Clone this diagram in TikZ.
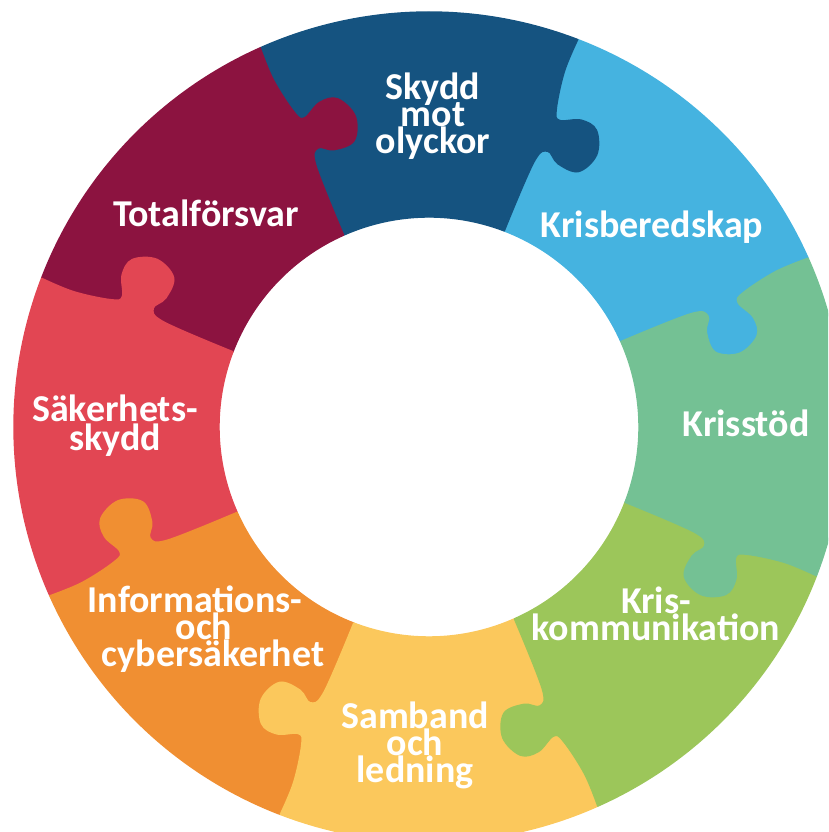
\documentclass[tikz,border=0pt]{standalone}
\usepackage{fontspec}
\setmainfont{Carlito}

\definecolor{krisblue}{HTML}{45B3E0}
\definecolor{skyddblue}{HTML}{155380}
\definecolor{totalred}{HTML}{8C1340}
\definecolor{sakred}{HTML}{E24653}
\definecolor{infoorange}{HTML}{F08F32}
\definecolor{sambyellow}{HTML}{FBC85C}
\definecolor{kommgreen}{HTML}{9CC65A}
\definecolor{stodgreen}{HTML}{74C194}

% one seam between two pieces, knob pointing clockwise
\newcommand{\puzzleseam}[2]{%
  \begin{scope}[rotate=#2]
    \path (2.10,0) coordinate (#1a) (2.85,-0.03) coordinate (#1b)
      (3.00,-0.12) coordinate (#1c) (2.92,-0.26) coordinate (#1d)
      (2.92,-0.48) coordinate (#1e) (3.14,-0.59) coordinate (#1f)
      (3.37,-0.50) coordinate (#1g) (3.41,-0.32) coordinate (#1h)
      (3.33,-0.12) coordinate (#1i) (3.42,-0.05) coordinate (#1j)
      (3.80,0.01) coordinate (#1k) (4.15,0) coordinate (#1l);
  \end{scope}}

% #1 colour, #2 own seam, #3 next seam, #4 start angle
\newcommand{\puzzlepiece}[4]{%
  \fill[#1, draw=#1, line width=0.4pt, line join=round]
    plot[smooth, tension=0.6] coordinates {(#2a) (#2b) (#2c) (#2d) (#2e) (#2f) (#2g) (#2h) (#2i) (#2j) (#2k) (#2l)}
    arc[start angle=#4, delta angle=45, radius=4.15]
    -- plot[smooth, tension=0.6] coordinates {(#3l) (#3k) (#3j) (#3i) (#3h) (#3g) (#3f) (#3e) (#3d) (#3c) (#3b) (#3a)}
    arc[start angle=#4+45, delta angle=-45, radius=2.10] -- cycle;}

\begin{document}
\begin{tikzpicture}[
    piecetext/.style={text=white, align=center, inner sep=0pt,
      font=\bfseries\fontsize{10.8}{7.7}\selectfont,
      execute at begin node={\setlength{\lineskiplimit}{-100pt}}}]
    \useasboundingbox (-4.29,-4.05) rectangle (3.99,4.27);
    \clip (-4.29,-4.05) rectangle (3.99,4.27);

    \puzzleseam{s0}{24}
    \puzzleseam{s1}{69}
    \puzzleseam{s2}{114}
    \puzzleseam{s3}{159}
    \puzzleseam{s4}{204}
    \puzzleseam{s5}{249}
    \puzzleseam{s6}{294}
    \puzzleseam{s7}{339}

    \puzzlepiece{krisblue}{s0}{s1}{24}
    \puzzlepiece{skyddblue}{s1}{s2}{69}
    \puzzlepiece{totalred}{s2}{s3}{114}
    \puzzlepiece{sakred}{s3}{s4}{159}
    \puzzlepiece{infoorange}{s4}{s5}{204}
    \puzzlepiece{sambyellow}{s5}{s6}{249}
    \puzzlepiece{kommgreen}{s6}{s7}{294}
    \puzzlepiece{stodgreen}{s7}{s0}{339}

    \node[piecetext] (skydd) at (0.04,3.11) {Skydd\\mot\\olyckor};
    \node[piecetext] (total) at (-2.23,2.14) {Totalförsvar};
    \node[piecetext] (krisbered) at (2.23,2.00) {Krisberedskap};
    \node[piecetext] (krisstod) at (3.17,0.04) {Krisstöd};
    \node[piecetext, font=\bfseries\fontsize{10.8}{8.3}\selectfont] (sakerhet) at (-3.14,0.01) {Säkerhets-\\skydd};
    \node[piecetext] (info) at (-2.25,-2.02) {Informations-\hspace*{0.18cm}\\och\hspace*{0.18cm}\\\hspace*{0.18cm}cybersäkerhet};
    \node[piecetext] (samband) at (-0.14,-3.18) {Samband\\och\\ledning};
    \node[piecetext] (kriskomm) at (2.27,-1.87) {Kris-\\kommunikation};
\end{tikzpicture}
\end{document}
